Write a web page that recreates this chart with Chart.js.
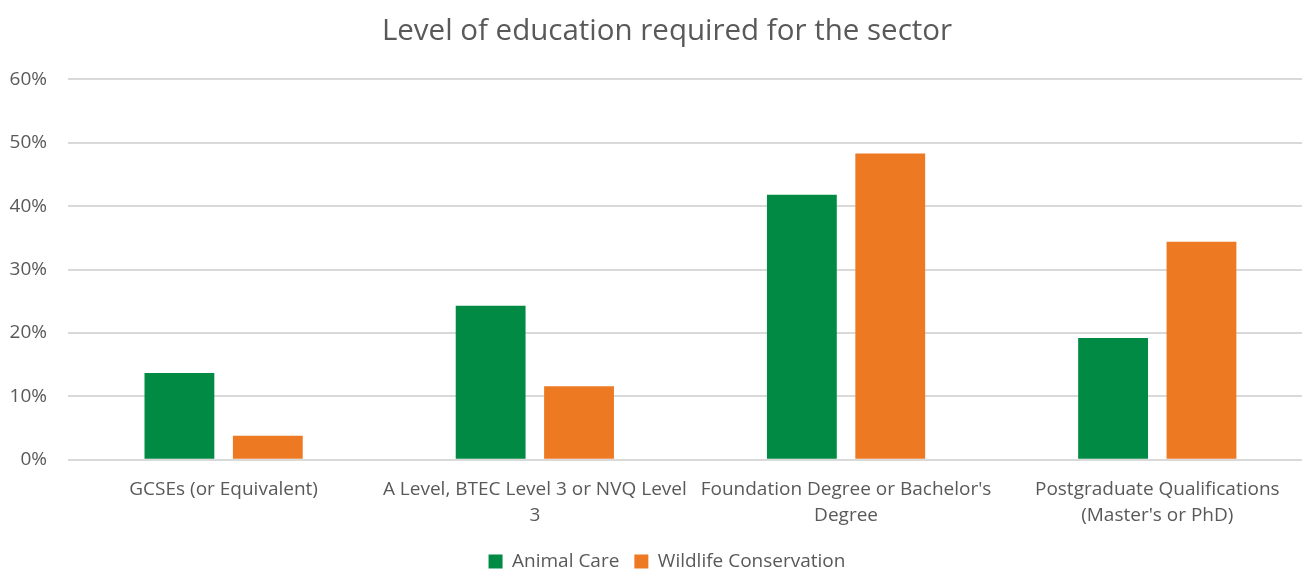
<!DOCTYPE html>
<html>
<head>
<meta charset="utf-8">
<script src="https://cdn.jsdelivr.net/npm/chart.js@4/dist/chart.umd.min.js"></script>
<style>
  html, body { margin: 0; padding: 0; background: #ffffff; }
  #wrap { width: 1302px; height: 571px; }
</style>
</head>
<body>
<div id="wrap"><canvas id="chart" width="1302" height="571"></canvas></div>
<script>
const categories = [
  "GCSEs (or Equivalent)",
  ["A Level, BTEC Level 3 or NVQ Level", "3"],
  ["Foundation Degree or Bachelor's", "Degree"],
  ["Postgraduate Qualifications", "(Master's or PhD)"]
];
const animalCare = [13.7, 24.3, 41.8, 19.2];
const wildlifeConservation = [3.8, 11.6, 48.3, 34.4];
const yTicks = [0, 10, 20, 30, 40, 50, 60];

const FONT = "'Open Sans', 'Liberation Sans', sans-serif";
const GREY = '#595959';

// one group of bars per category index
const toPoints = (values) => values.map((y, i) => ({ x: i, y }));

new Chart(document.getElementById('chart'), {
  type: 'bar',
  data: {
    datasets: [
      { label: 'Animal Care', data: toPoints(animalCare), backgroundColor: '#008A44',
        categoryPercentage: 0.568, barPercentage: 0.79 },
      { label: 'Wildlife Conservation', data: toPoints(wildlifeConservation), backgroundColor: '#ED7922',
        categoryPercentage: 0.568, barPercentage: 0.79 }
    ]
  },
  options: {
    responsive: false,
    animation: false,
    // the chart frame runs a little past the right edge of the canvas
    layout: { padding: { left: 0, right: -32, top: 0, bottom: -10 } },
    plugins: {
      title: {
        display: true,
        text: 'Level of education required for the sector',
        color: GREY,
        font: { family: FONT, size: 29.5, weight: 'normal', lineHeight: 1.2 },
        padding: { top: 14, bottom: 30 }
      },
      legend: {
        position: 'bottom',
        labels: {
          color: GREY,
          font: { family: FONT, size: 19 },
          boxWidth: 14, boxHeight: 14,
          padding: 15
        }
      },
      tooltip: { enabled: false }
    },
    scales: {
      x: {
        type: 'linear',
        offset: false,
        min: -0.5,
        max: categories.length - 0.535,   // last slot is cut by the canvas edge
        afterBuildTicks: (scale) => { scale.ticks = categories.map((_, i) => ({ value: i })); },
        grid: { display: false, offset: false },
        border: { display: false },
        ticks: {
          color: GREY,
          font: { family: FONT, size: 19, lineHeight: 1.4 },
          maxRotation: 0,
          autoSkip: false,
          padding: 8,
          callback: (v) => categories[v]
        }
      },
      y: {
        min: 0,
        max: 60,
        afterFit: (scale) => { scale.width = 68; },
        afterBuildTicks: (scale) => { scale.ticks = yTicks.map(v => ({ value: v })); },
        grid: { color: '#d9d9d9', lineWidth: 2, drawTicks: false },
        border: { display: false },
        ticks: {
          color: GREY,
          font: { family: FONT, size: 19 },
          padding: 21,
          callback: (v) => v + '%'
        }
      }
    }
  }
});
</script>
</body>
</html>
